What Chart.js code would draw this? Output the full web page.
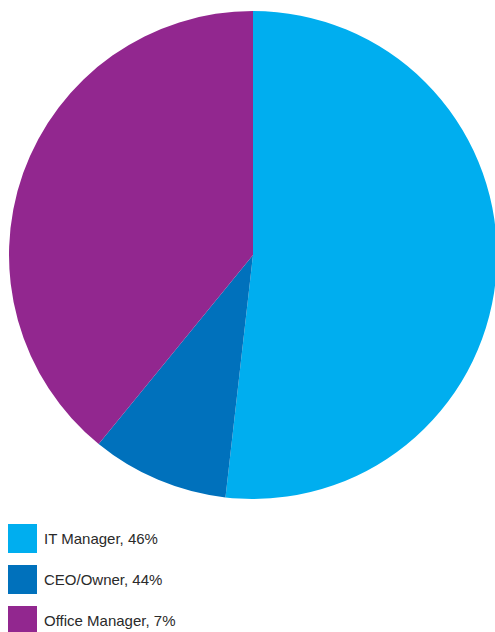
<!DOCTYPE html>
<html>
<head>
<meta charset="utf-8">
<script src="https://cdn.jsdelivr.net/npm/chart.js@4"></script>
<style>
  html, body { margin: 0; padding: 0; background: #fff; width: 495px; height: 632px; overflow: hidden; position: relative; }
  #wrap { position: absolute; left: 8px; top: 11px; width: 490px; height: 488px; }
  #legend { position: absolute; left: 8px; top: 524px; font-family: "Liberation Sans", Arial, sans-serif; font-size: 15px; color: #2a2a2a; }
  .item { display: flex; align-items: center; height: 29px; margin-bottom: 12px; }
  .box { width: 29px; height: 29px; margin-right: 7px; flex: none; }
</style>
</head>
<body>
<div id="wrap"><canvas id="c"></canvas></div>
<div id="legend"></div>
<script>
const categories = ["IT Manager", "CEO/Owner", "Office Manager"];
const legendLabels = ["IT Manager, 46%", "CEO/Owner, 44%", "Office Manager, 7%"];
const values = [51.8, 9.1, 39.1];
const colors = ["#00AEEF", "#0071BC", "#92278F"];

new Chart(document.getElementById('c'), {
  type: 'pie',
  data: {
    labels: categories,
    datasets: [{ data: values, backgroundColor: colors, borderWidth: 0 }]
  },
  options: {
    responsive: true,
    maintainAspectRatio: false,
    animation: false,
    layout: { padding: 0 },
    plugins: { legend: { display: false }, tooltip: { enabled: false } }
  }
});

const lg = document.getElementById('legend');
legendLabels.forEach((t, i) => {
  const d = document.createElement('div');
  d.className = 'item';
  d.innerHTML = '<span class="box" style="background:' + colors[i] + '"></span><span>' + t + '</span>';
  lg.appendChild(d);
});
</script>
</body>
</html>
